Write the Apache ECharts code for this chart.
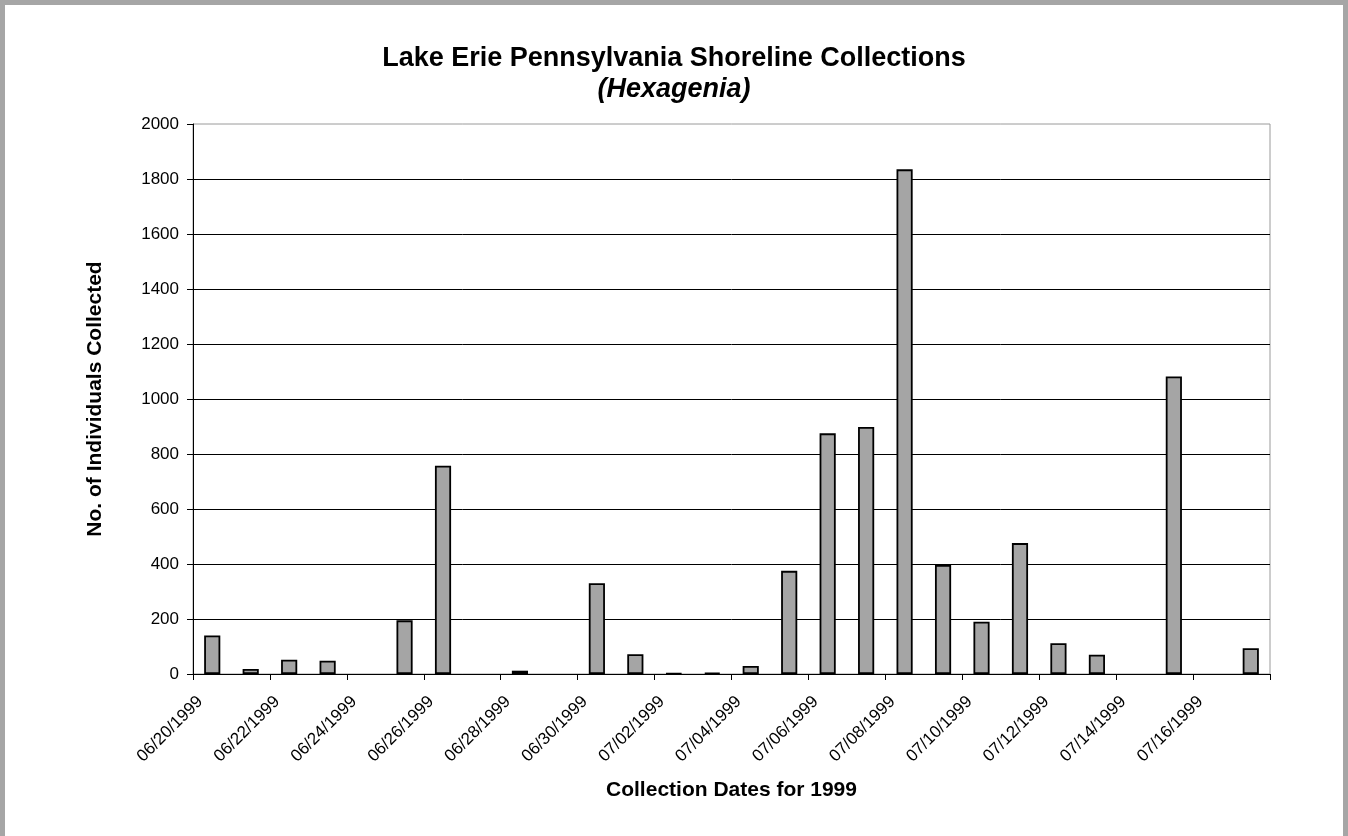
<!DOCTYPE html>
<html>
<head>
<meta charset="utf-8">
<title>Lake Erie Pennsylvania Shoreline Collections</title>
<script src="https://cdn.jsdelivr.net/npm/echarts@6/dist/echarts.min.js"></script>
<style>
  html, body { margin: 0; padding: 0; background: #fff; }
  #chart { width: 1348px; height: 836px; }
</style>
</head>
<body>
<div id="chart"></div>
<script>
// Daily shoreline collection dates (one category per day)
const collectionDates = [
  '06/20/1999', '06/21/1999', '06/22/1999', '06/23/1999', '06/24/1999',
  '06/25/1999', '06/26/1999', '06/27/1999', '06/28/1999', '06/29/1999',
  '06/30/1999', '07/01/1999', '07/02/1999', '07/03/1999', '07/04/1999',
  '07/05/1999', '07/06/1999', '07/07/1999', '07/08/1999', '07/09/1999',
  '07/10/1999', '07/11/1999', '07/12/1999', '07/13/1999', '07/14/1999',
  '07/15/1999', '07/16/1999', '07/17/1999'
];

// Hexagenia individuals collected on each date
const individualsCollected = [
  140, 18, 52, 48, 0,
  195, 757, 0, 12, 0,
  330, 72, 2, 4, 29,
  375, 875, 898, 1835, 397,
  190, 476, 112, 70, 0,
  1082, 0, 94
];

// Count axis range
const countMin = 0;
const countMax = 2000;
const countStep = 200;

const FONT = '"Liberation Sans", Arial, Helvetica, sans-serif';

// Days with no catch get no bar outline
const barData = individualsCollected.map(v => (v === 0 ? null : v));

const chart = echarts.init(document.getElementById('chart'), null, { renderer: 'canvas' });

chart.setOption({
  animation: false,
  backgroundColor: '#ffffff',
  textStyle: { fontFamily: FONT, color: '#000' },
  title: [
    {
      text: 'Lake Erie Pennsylvania Shoreline Collections',
      left: 'center',
      top: 40,
      textStyle: { fontFamily: FONT, fontSize: 27, fontWeight: 'bold', color: '#000' }
    },
    {
      text: '(Hexagenia)',
      left: 'center',
      top: 71,
      textStyle: { fontFamily: FONT, fontSize: 27, fontWeight: 'bold', fontStyle: 'italic', color: '#000' }
    }
  ],
  graphic: [
    // chart-area frame
    { type: 'rect', silent: true, shape: { x: 0, y: 0, width: 5, height: 836 }, style: { fill: '#a6a6a6' } },
    { type: 'rect', silent: true, shape: { x: 0, y: 0, width: 1348, height: 5 }, style: { fill: '#a6a6a6' } },
    { type: 'rect', silent: true, shape: { x: 1343, y: 0, width: 5, height: 836 }, style: { fill: '#a6a6a6' } }
  ],
  grid: {
    left: 193,
    right: 78,
    top: 124,
    bottom: 162,
    show: true,
    borderColor: '#9a9a9a',
    borderWidth: 1,
    backgroundColor: '#fff'
  },
  xAxis: {
    type: 'category',
    data: collectionDates,
    boundaryGap: true,
    name: 'Collection Dates for 1999',
    nameLocation: 'middle',
    nameGap: 106,
    nameTextStyle: { fontFamily: FONT, fontSize: 21, fontWeight: 'bold', color: '#000' },
    axisLine: { show: true, lineStyle: { color: '#000', width: 1 } },
    axisTick: { show: true, interval: 1, length: 6, lineStyle: { color: '#000' } },
    axisLabel: {
      interval: 1,
      rotate: 45,
      margin: 13,
      padding: [0, 17, 0, 0],
      fontFamily: FONT,
      fontSize: 17,
      color: '#000'
    },
    splitLine: { show: false }
  },
  yAxis: {
    type: 'value',
    min: countMin,
    max: countMax,
    interval: countStep,
    name: 'No. of Individuals Collected',
    nameLocation: 'middle',
    nameGap: 87,
    nameTextStyle: { fontFamily: FONT, fontSize: 21, fontWeight: 'bold', color: '#000' },
    axisLine: { show: true, lineStyle: { color: '#000', width: 1 } },
    axisTick: { show: true, length: 6, lineStyle: { color: '#000' } },
    axisLabel: {
      margin: 14,
      fontFamily: FONT,
      fontSize: 17,
      color: '#000',
      formatter: v => String(v)
    },
    splitLine: { show: true, showMaxLine: false, lineStyle: { color: '#000', width: 1 } }
  },
  series: [
    {
      type: 'bar',
      data: barData,
      barWidth: '42%',
      itemStyle: { color: '#a5a5a5', borderColor: '#000', borderWidth: 1.8 }
    }
  ]
});
</script>
</body>
</html>
